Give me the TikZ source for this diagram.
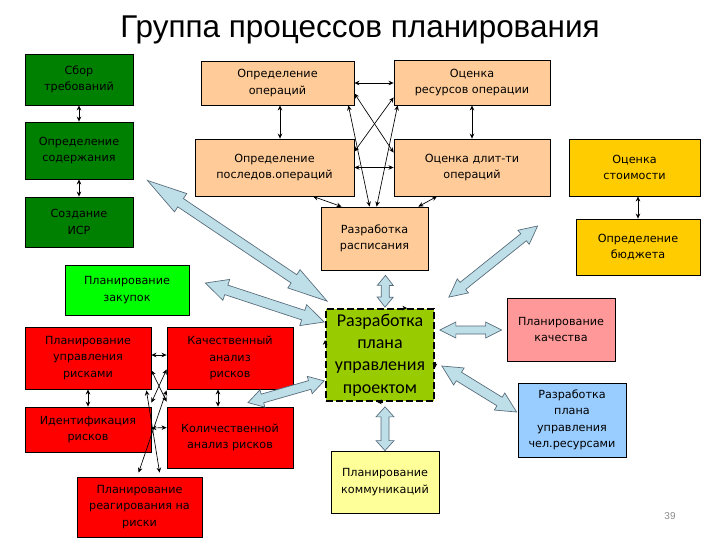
\documentclass[tikz,border=0pt]{standalone}
\usepackage{fontspec}
\setmainfont{DejaVu Sans}
\newfontfamily\titlefont{Liberation Sans}
\newfontfamily\pmfont{Carlito}
\usetikzlibrary{calc,arrows.meta}
\definecolor{dgreen}{RGB}{0,128,0}
\definecolor{lgreen}{RGB}{0,255,0}
\definecolor{peach}{RGB}{255,204,153}
\definecolor{gold}{RGB}{255,204,0}
\definecolor{pinkq}{RGB}{255,153,153}
\definecolor{sky}{RGB}{153,204,255}
\definecolor{lyellow}{RGB}{255,255,153}
\definecolor{pmgreen}{RGB}{153,204,0}
\definecolor{riskred}{RGB}{255,0,0}
\definecolor{arrfill}{RGB}{190,222,232}
\definecolor{arrline}{RGB}{85,105,120}
\tikzset{
  box/.style={draw=black, line width=0.6pt, align=center, inner sep=0pt,
    font=\fontsize{8.4}{12.4}\selectfont},
  sz/.style 2 args={minimum width=#1*0.75pt, minimum height=#2*0.75pt},
  con/.style={{Stealth[length=3.8pt,width=3.4pt]}-{Stealth[length=3.8pt,width=3.4pt]}, line width=0.5pt},
  blockarr/.style={fill=arrfill, draw=arrline, line width=0.5pt, line join=miter},
  bordermark/.style={-{Stealth[length=3.5pt,width=3.5pt]}, line width=0.5pt}
}
\newcommand\barrow[5]{%
  \pgfmathsetmacro\bH{#3*0.75}%
  \pgfmathsetmacro\bW{#4*0.75}%
  \pgfmathsetmacro\bS{#5*0.75}%
  \filldraw[blockarr] (#1)
   -- ($(#1)!\bH pt!(#2)!\bW pt!90:(#2)$)
   -- ($(#1)!\bH pt!(#2)!\bS pt!90:(#2)$)
   -- ($(#2)!\bH pt!(#1)!\bS pt!-90:(#1)$)
   -- ($(#2)!\bH pt!(#1)!\bW pt!-90:(#1)$)
   -- (#2)
   -- ($(#2)!\bH pt!(#1)!\bW pt!90:(#1)$)
   -- ($(#2)!\bH pt!(#1)!\bS pt!90:(#1)$)
   -- ($(#1)!\bH pt!(#2)!\bS pt!-90:(#2)$)
   -- ($(#1)!\bH pt!(#2)!\bW pt!-90:(#2)$)
   -- cycle;}
\begin{document}
\begin{tikzpicture}[x=0.75pt,y=-0.75pt]
\fill[white] (0,0) rectangle (720,540);
\useasboundingbox (0,0) rectangle (720,540);

\node[font=\titlefont\fontsize{23.6}{28}\selectfont] (title) at (360,30) {Группа процессов планирования};

% left green column
\node[box, fill=dgreen, sz={108}{51}] (sbor) at (79,79.5) {Сбор\\требований};
\node[box, fill=dgreen, sz={108}{57}] (soder) at (79,150.5) {Определение\\содержания};
\node[box, fill=dgreen, sz={108}{50}] (isr) at (79,222) {Создание\\ИСР};

% orange block
\node[box, fill=peach, sz={153}{44}] (opop) at (277.5,83) {Определение\\операций};
\node[box, fill=peach, sz={156}{45}] (resop) at (472,82.5) {Оценка\\ресурсов операции};
\node[box, fill=peach, sz={159}{57}] (posl) at (274.5,167.5) {Определение\\последов.операций};
\node[box, fill=peach, sz={156}{57}] (dlit) at (472,167.5) {Оценка длит-ти\\операций};
\node[box, fill=peach, sz={107}{63}] (rasp) at (374.5,238.5) {Разработка\\расписания};

% cost
\node[box, fill=gold, sz={131}{57}] (stoim) at (634.5,167.5) {Оценка\\стоимости};
\node[box, fill=gold, sz={124}{56}] (budg) at (638,247) {Определение\\бюджета};

% procurement
\node[box, fill=lgreen, sz={124}{50}] (zak) at (127,290) {Планирование\\закупок};

% risks
\node[box, fill=riskred, sz={126}{62}] (plrisk) at (88,358) {Планирование\\управления\\рисками};
\node[box, fill=riskred, sz={126}{62}] (kach) at (230,358) {Качественный\\анализ\\рисков};
\node[box, fill=riskred, sz={126}{45}] (ident) at (88,429.5) {Идентификация\\рисков};
\node[box, fill=riskred, sz={126}{61}] (kolich) at (230,437.5) {Количественной\\анализ рисков};
\node[box, fill=riskred, sz={125}{60}] (reag) at (139.5,507) {Планирование\\реагирования на\\риски};

% central
\node[box, fill=pmgreen, sz={108}{92}, line width=1.3pt, dash pattern=on 5pt off 2.5pt,
  font=\pmfont\fontsize{13.5}{16.8}\selectfont] (pm) at (380,355) {Разработка\\плана\\управления\\проектом};

\node[box, fill=pinkq, sz={108}{63}] (qual) at (561,329.5) {Планирование\\качества};
\node[box, fill=sky, sz={108}{74}] (hr) at (572,420) {Разработка\\плана\\управления\\чел.ресурсами};
\node[box, fill=lyellow, sz={108}{62}] (comm) at (385,482) {Планирование\\коммуникаций};

\node[font=\titlefont\fontsize{7.5}{9}\selectfont, text=black!45] (pg) at (670,516) {39};

% thin connectors
\draw[con] (sbor) -- (soder);
\draw[con] (soder) -- (isr);
\draw[con] ($(opop.south)+(2.5,0)$) -- ($(posl.north)+(5.5,0)$);
\draw[con] (opop.east) -- ($(resop.west)+(0,0.5)$);
\draw[con] (posl.east) -- (dlit.west);
\draw[con] (resop) -- (dlit);
\draw[con] ($(opop.south east)+(0,-12)$) -- ($(dlit.north west)+(0,14)$);
\draw[con] ($(resop.south west)+(0,-8)$) -- ($(posl.north east)+(0,13)$);
\draw[con] ($(opop.south east)+(-6,0)$) -- ($(rasp.north west)+(49,0)$);
\draw[con] ($(resop.south west)+(4,0)$) -- ($(rasp.north west)+(56,0)$);
\draw[con] ($(posl.south)+(38.5,0)$) -- ($(rasp.north west)+(21,0)$);
\draw[con] ($(dlit.south)+(-35,0)$) -- ($(rasp.north east)+(-10,0)$);
\draw[con] ($(stoim.south)+(3.5,0)$) -- (budg.north);

\draw[con] ($(plrisk.east)+(0,-3)$) -- ($(kach.west)+(0,-3)$);
\draw[con] (plrisk) -- (ident);
\draw[con] ($(kach.south)+(-12,0)$) -- ($(kolich.north)+(-12,0)$);
\draw[con] ($(ident.east)+(0,-1.5)$) -- ($(kolich.north west)+(0,21)$);
\draw[con] ($(plrisk.south east)+(0,-19)$) -- ($(kolich.north west)+(0,-5)$);
\draw[con] ($(kach.south west)+(0,-20)$) -- ($(ident.north east)+(0,-4)$);
\draw[con] ($(plrisk.south east)+(-5,1)$) -- ($(reag.north west)+(83,-4)$);
\draw[con] ($(kach.south west)+(0,1)$) -- ($(reag.north west)+(62,-4)$);

% block arrows
\coordinate (s1) at ($(soder.south east)+(14,1)$);
\coordinate (s2) at ($(pm.north west)+(2,-7)$);
\barrow{s1}{s2}{40}{11}{5}
\coordinate (z1) at ($(zak.east)+(16,-7)$);
\coordinate (z2) at ($(pm.west)+(-1,-33)$);
\barrow{z1}{z2}{22}{11}{5}
\coordinate (k1) at ($(kolich.north)+(18,-4)$);
\coordinate (k2) at ($(pm.south west)+(-1,-21)$);
\barrow{k1}{k2}{15}{9}{4.5}
\coordinate (r1) at ($(rasp.south)+(11,5)$);
\coordinate (r2) at ($(pm.north)+(5,-1)$);
\barrow{r1}{r2}{10}{8}{4}
\coordinate (c1) at ($(pm.north east)+(14,-11)$);
\coordinate (c2) at ($(budg.west)+(-38,-21)$);
\barrow{c1}{c2}{18}{9}{4.5}
\coordinate (q1) at ($(pm.east)+(5,-25)$);
\coordinate (q2) at ($(qual.west)+(-5,0.5)$);
\barrow{q1}{q2}{16}{8}{4}
\coordinate (h1) at ($(pm.east)+(7,11)$);
\coordinate (h2) at ($(hr.west)+(-1,-8)$);
\barrow{h1}{h2}{20}{10}{5}
\coordinate (m1) at ($(pm.south)+(5,5)$);
\coordinate (m2) at (comm.north);
\barrow{m1}{m2}{10}{9}{4}

% marks on the central box border
\draw[bordermark] ($(pm.north west)+(76,0)$) -- ($(pm.north west)+(82,0)$);
\draw[bordermark] ($(pm.north west)+(0,38)$) -- ($(pm.north west)+(0,32)$);
\draw[bordermark] ($(pm.north east)+(0,54)$) -- ($(pm.north east)+(0,60)$);
\draw[bordermark] ($(pm.south)+(3,0)$) -- ($(pm.south)+(-3,0)$);
\end{tikzpicture}
\end{document}
